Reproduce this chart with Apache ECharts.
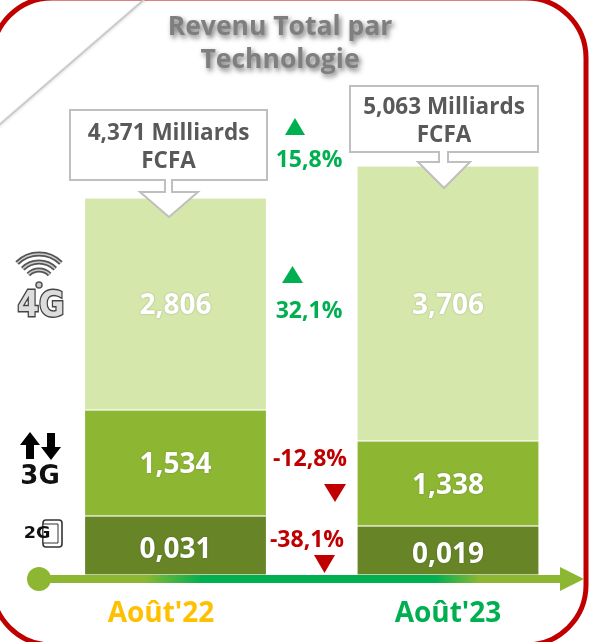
<!DOCTYPE html>
<html><head><meta charset="utf-8">
<style>html,body{margin:0;padding:0;background:#fff}#c{width:590px;height:642px}</style>
<script src="https://cdn.jsdelivr.net/npm/echarts@6/dist/echarts.min.js"></script>
</head><body><div id="c"></div>
<script>
const categories = ["Août'22", "Août'23"];
// Drawn segment heights (the source is not to scale with its labels)
const drawn2G = [0.787, 0.653];
const drawn3G = [1.413, 1.133];
const drawn4G = [2.827, 3.667];
// Printed labels
const labels2G = ["0,031", "0,019"];
const labels3G = ["1,534", "1,338"];
const labels4G = ["2,806", "3,706"];
const totals = ["4,371 Milliards\nFCFA", "5,063 Milliards\nFCFA"];
const changes = ["15,8%", "32,1%", "-12,8%", "-38,1%"];
const titleText = "Revenu Total par\nTechnologie";

const FONT = "'Open Sans', Lato, sans-serif";
const GREEN = "#00b050", RED = "#c00000", LIME = "#8db733", GREY = "#bfbfbf", TXT = "#595959";

function seg(name, data, lab, color, off) {
  return {
    name, type: "bar", stack: "t", barWidth: 182, data,
    itemStyle: { color, borderColor: "rgba(255,255,255,0.18)", borderWidth: 1 },
    label: {
      show: true, position: "inside", offset: [0, off],
      formatter: p => lab[p.dataIndex],
      color: "#fff", fontFamily: FONT, fontWeight: 700, fontSize: 28,
      textShadowColor: "rgba(0,0,0,0.25)", textShadowBlur: 2
    },
    silent: true
  };
}
function tri(pts, fill) { return { type: "polygon", shape: { points: pts }, style: { fill }, z: 10 }; }
function txt(x, y, text, fill, size, extra, el) {
  return Object.assign({ type: "text", x, y, z: 12, style: Object.assign({
    text, fill, font: `700 ${size}px ${FONT}`, align: "center", verticalAlign: "middle", lineHeight: 28
  }, extra || {}) }, el || {});
}
function callout(x, y, w, h, sx0, sx1, hx0, hx1, tx, neckY, headY, tipY, t, ty) {
  return [
    { type: "polygon", z: 9, shape: { points: [[sx0, y + h - 1], [sx0, headY], [hx0, headY], [tx, tipY], [hx1, headY], [sx1, headY], [sx1, y + h - 1]] },
      style: { fill: "#fff", stroke: GREY, lineWidth: 2 } },
    { type: "rect", z: 10, shape: { x, y, width: w, height: h }, style: { fill: "#fff", stroke: GREY, lineWidth: 2 } },
    { type: "rect", z: 10, shape: { x: sx0 + 1, y: y + h - 2, width: sx1 - sx0 - 2, height: 4 }, style: { fill: "#fff" } },
    txt(x + w / 2, ty, t, TXT, 22.5)
  ];
}

const wifi = [];
[31, 23, 15].forEach((r) => {
  wifi.push({ type: "arc", z: 12, shape: { cx: 39, cy: 285, r, startAngle: -Math.PI * 0.75, endAngle: -Math.PI * 0.25 },
    style: { stroke: "#555", fill: null, lineWidth: 5 } });
  wifi.push({ type: "arc", z: 13, shape: { cx: 39, cy: 285, r, startAngle: -Math.PI * 0.75, endAngle: -Math.PI * 0.25 },
    style: { stroke: "#ccc", fill: null, lineWidth: 1.5 } });
});

const graphics = [
  // frame
  { type: "rect", z: 1, shape: { x: -8, y: -2, width: 594, height: 647, r: 60 }, style: { fill: "#fff", stroke: RED, lineWidth: 5 } },
  { type: "polyline", z: 2, shape: { points: [[146, -2], [-2, 126]] }, style: { stroke: "#cacaca", lineWidth: 2, fill: null, shadowColor: "rgba(0,0,0,0.15)", shadowBlur: 3, shadowOffsetY: 1 } },
  { type: "polygon", z: 0, shape: { points: [[0, 39], [0, 28], [15, 11], [18, 14]] }, style: { fill: "#c8c8c8" } },
  // title
  txt(280, 44, titleText, "#7f7f7f", 26.5, { lineHeight: 33, textShadowColor: "rgba(0,0,0,0.55)", textShadowBlur: 5, textShadowOffsetX: 2, textShadowOffsetY: 3 }),
  // callouts
  ...callout(70, 110, 197, 70, 165, 172, 140, 198, 169, 180, 192, 217, totals[0], 147.5),
  ...callout(350, 86, 188, 66, 439, 448, 418, 470, 444, 152, 162, 188, totals[1], 121.5),
  // changes
  tri([[285, 135], [295, 118], [305, 135]], GREEN),
  txt(309, 160, changes[0], GREEN, 23),
  tri([[282, 283], [292.5, 266], [303, 283]], GREEN),
  txt(309, 311, changes[1], GREEN, 23),
  txt(310, 459, changes[2], RED, 23),
  tri([[324, 484], [346, 484], [335, 502]], RED),
  txt(307, 540, changes[3], RED, 23),
  tri([[314, 555], [335, 555], [324.5, 573]], RED),
  // timeline
  { type: "rect", z: 8, shape: { x: 39, y: 575, width: 525, height: 8 }, style: { fill: new echarts.graphic.LinearGradient(0, 0, 1, 0, [
      { offset: 0, color: LIME }, { offset: 0.2, color: LIME }, { offset: 0.31, color: GREEN },
      { offset: 0.755, color: GREEN }, { offset: 0.84, color: LIME }, { offset: 1, color: LIME }]) } },
  { type: "circle", z: 9, shape: { cx: 39, cy: 579, r: 12 }, style: { fill: LIME } },
  tri([[560, 567], [584, 579], [560, 591]], LIME),
  // 4G icon
  ...wifi,
  { type: "circle", z: 13, shape: { cx: 39, cy: 285, r: 3 }, style: { fill: "#ccc", stroke: "#555", lineWidth: 1.5 } },
  txt(41, 307, "4G", "#ddd", 31, { stroke: "#444", lineWidth: 2.5, font: `700 31px 'DejaVu Sans', sans-serif` }, { scaleY: 1.15 }),
  // 3G icon
  { type: "polygon", z: 12, shape: { points: [[30, 432], [40, 445], [34, 445], [34, 459], [26, 459], [26, 445], [20, 445]] }, style: { fill: "#000" } },
  { type: "polygon", z: 12, shape: { points: [[51, 460], [61, 447], [55, 447], [55, 433], [47, 433], [47, 447], [41, 447]] }, style: { fill: "#000" } },
  txt(40, 477, "3G", "#111", 26, { font: `700 26px 'DejaVu Sans', sans-serif` }),
  // 2G icon
  { type: "rect", z: 12, shape: { x: 43, y: 520, width: 19, height: 27, r: 3 }, style: { fill: "#fff", stroke: "#333", lineWidth: 1.6 } },
  { type: "rect", z: 12, shape: { x: 43, y: 524, width: 15, height: 19 }, style: { fill: "#fff", stroke: "#333", lineWidth: 1 } },
  txt(37, 534, "2G", "#111", 16, { font: `700 16px 'DejaVu Sans', sans-serif` }, { z: 14, scaleX: 1.1 })
];

const chart = echarts.init(document.getElementById("c"), null, { renderer: "canvas" });
chart.setOption({
  animation: false,
  backgroundColor: "#fff",
  grid: { left: 39.25, width: 545, top: 0, height: 575 },
  xAxis: {
    type: "category", data: categories, z: 20,
    axisLine: { show: false }, axisTick: { show: false },
    axisLabel: {
      margin: 25,
      formatter: (v, i) => `{${i === 0 ? "a" : "b"}|${v}}`,
      rich: {
        a: { color: "#ffc000", fontFamily: FONT, fontWeight: 700, fontSize: 28, padding: [0, 29, 0, 0] },
        b: { color: GREEN, fontFamily: FONT, fontWeight: 700, fontSize: 28 }
      }
    }
  },
  yAxis: { type: "value", min: 0, max: 575 / 75, show: false },
  series: [
    seg("2G", drawn2G, labels2G, "#678527", 5),
    seg("3G", drawn3G, labels3G, LIME, 2.5),
    seg("4G", drawn4G, labels4G, "#d5e7ab", 2.5)
  ],
  graphic: { elements: graphics }
});
</script></body></html>
